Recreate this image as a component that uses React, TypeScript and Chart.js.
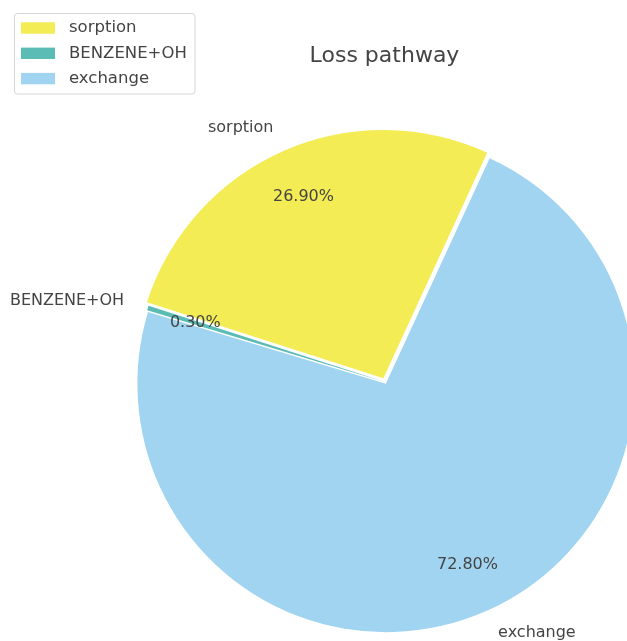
import React, { useEffect, useRef } from "react";
import { Chart, registerables } from "chart.js";

Chart.register(...registerables);

const labels = ["sorption", "BENZENE+OH", "exchange"];
const values = [26.9, 0.3, 72.8];
const colors = ["#f3ec55", "#5bbcb5", "#a0d4f1"];
const explode = [0.016, 0.0, 0.008];
const title = "Loss pathway";
const startAngle = 65.3; // matplotlib-style, counter-clockwise from +x

const FONT = "'DejaVu Sans', sans-serif";
const TEXT = "#444444";

const explodePlugin = {
  id: "explodeSlices",
  afterDatasetUpdate(chart: any, args: any) {
    const n = chart.data.labels.length;
    args.meta.data.forEach((arc: any, j: number) => {
      const i = n - 1 - j;
      const mid = (arc.startAngle + arc.endAngle) / 2;
      const d = explode[i] * arc.outerRadius;
      arc.x += Math.cos(mid) * d;
      arc.y += Math.sin(mid) * d;
    });
  },
};

const labelPlugin = {
  id: "pieLabels",
  afterDatasetsDraw(chart: any) {
    const ctx = chart.ctx;
    const meta = chart.getDatasetMeta(0);
    const data = chart.data.datasets[0].data as number[];
    const total = data.reduce((a, b) => a + b, 0);
    ctx.save();
    ctx.fillStyle = TEXT;
    ctx.font = `16px ${FONT}`;
    ctx.textBaseline = "middle";
    meta.data.forEach((arc: any, j: number) => {
      const mid = (arc.startAngle + arc.endAngle) / 2;
      const r = arc.outerRadius;
      const c = Math.cos(mid);
      const s = Math.sin(mid);
      const lx = arc.x + c * r * 1.1;
      const ly = arc.y + s * r * 1.1;
      ctx.textAlign = c < 0 ? "right" : "left";
      ctx.fillText(chart.data.labels[j], lx, ly);
      const px = arc.x + c * r * 0.8;
      const py = arc.y + s * r * 0.8;
      ctx.textAlign = "center";
      ctx.fillText(((data[j] / total) * 100).toFixed(2) + "%", px, py);
    });
    ctx.restore();
  },
  afterDraw(chart: any) {
    const ctx = chart.ctx;
    const area = chart.chartArea;
    ctx.save();
    ctx.fillStyle = TEXT;
    ctx.font = `22px ${FONT}`;
    ctx.textAlign = "center";
    ctx.textBaseline = "alphabetic";
    ctx.fillText(title, (area.left + area.right) / 2 - 0.5, 61.5);
    const bx = 14.5, by = 13.5, bw = 180.5, bh = 80.5, rad = 3;
    ctx.beginPath();
    ctx.moveTo(bx + rad, by);
    ctx.lineTo(bx + bw - rad, by);
    ctx.arcTo(bx + bw, by, bx + bw, by + rad, rad);
    ctx.lineTo(bx + bw, by + bh - rad);
    ctx.arcTo(bx + bw, by + bh, bx + bw - rad, by + bh, rad);
    ctx.lineTo(bx + rad, by + bh);
    ctx.arcTo(bx, by + bh, bx, by + bh - rad, rad);
    ctx.lineTo(bx, by + rad);
    ctx.arcTo(bx, by, bx + rad, by, rad);
    ctx.closePath();
    ctx.fillStyle = "rgba(255,255,255,0.8)";
    ctx.fill();
    ctx.strokeStyle = "#d6d6d6";
    ctx.lineWidth = 1;
    ctx.stroke();
    ctx.font = `16.5px ${FONT}`;
    ctx.textAlign = "left";
    ctx.textBaseline = "middle";
    labels.forEach((lab, i) => {
      const y = 28 + i * 25.3;
      ctx.fillStyle = colors[i];
      ctx.fillRect(21, y - 5.7, 34, 11.4);
      ctx.fillStyle = TEXT;
      ctx.fillText(lab, 69, y);
    });
    ctx.restore();
  },
};

export default function App() {
  const ref = useRef<HTMLCanvasElement>(null);
  useEffect(() => {
    if (!ref.current) return;
    const rev = <T,>(a: T[]) => a.slice().reverse();
    const chart = new Chart(ref.current, {
      type: "pie",
      data: {
        labels: rev(labels),
        datasets: [
          {
            data: rev(values),
            backgroundColor: rev(colors),
            borderWidth: 0,
            hoverOffset: 0,
          },
        ],
      },
      options: {
        responsive: false,
        animation: false,
        devicePixelRatio: 1,
        radius: 248.4,
        rotation: 90 - startAngle,
        layout: { padding: 0 },
        events: [],
        plugins: {
          legend: { display: false },
          title: { display: false },
          tooltip: { enabled: false },
        },
      } as any,
      plugins: [explodePlugin, labelPlugin],
    });
    return () => chart.destroy();
  }, []);
  return (
    <div
      style={{
        position: "fixed",
        left: 0,
        top: 0,
        width: 627,
        height: 641,
        overflow: "hidden",
        background: "#fff",
      }}
    >
      <canvas
        ref={ref}
        width={770}
        height={764}
        style={{ width: 770, height: 764, display: "block" }}
      />
    </div>
  );
}
